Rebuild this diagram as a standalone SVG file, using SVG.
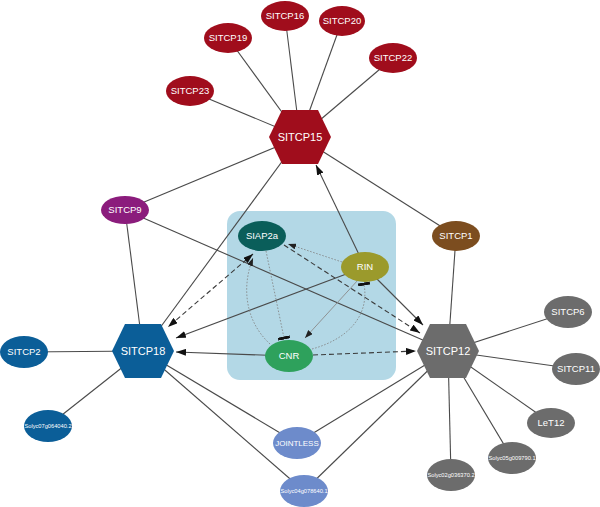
<svg xmlns="http://www.w3.org/2000/svg" width="600" height="507" viewBox="0 0 600 507">
<style>
text{font-family:"Liberation Sans",Arial,sans-serif;fill:#fff;text-anchor:middle}
.lb{font-size:9.5px}
.hx{font-size:11px}
.sm{font-size:5.7px}
.e{stroke:#4a4a4a;stroke-width:1.1;fill:none}
.d{stroke:#3a3a3a;stroke-width:1.1;fill:none;stroke-dasharray:5 3}
.t{stroke:#808080;stroke-width:0.8;fill:none;stroke-dasharray:1.6 1.6}
.ts{stroke:#8a8a8a;stroke-width:0.9;fill:none}
.red{fill:#a00d1c}.blu{fill:#0b5e98}.gry{fill:#6c6c6c}.per{fill:#6d8bcb}
</style>
<defs>
<marker id="a" markerUnits="userSpaceOnUse" markerWidth="10" markerHeight="7" refX="10" refY="3.5" orient="auto-start-reverse"><path d="M0,0L10,3.5L0,7z" fill="#111"/></marker>
<marker id="s" markerUnits="userSpaceOnUse" markerWidth="8" markerHeight="6" refX="8" refY="3" orient="auto"><path d="M0,0L8,3L0,6z" fill="#222"/></marker>
<marker id="b" markerUnits="userSpaceOnUse" markerWidth="3" markerHeight="12" refX="1.5" refY="6" orient="auto"><rect x="0" y="0" width="3" height="12" fill="#111"/></marker>
</defs>
<rect x="227" y="211" width="169" height="169" rx="13" fill="#b3d8e6"/>
<g id="connectors">
<line class="e" x1="300" y1="137" x2="285" y2="16"/>
<line class="e" x1="300" y1="137" x2="342" y2="21"/>
<line class="e" x1="300" y1="137" x2="228" y2="38"/>
<line class="e" x1="300" y1="137" x2="393" y2="58"/>
<line class="e" x1="300" y1="137" x2="190" y2="91"/>
<line class="e" x1="300" y1="137" x2="125" y2="210"/>
<line class="e" x1="300" y1="137" x2="143" y2="351"/>
<line class="e" x1="300" y1="137" x2="456" y2="236"/>
<line class="e" x1="125" y1="210" x2="143" y2="351"/>
<line class="e" x1="125" y1="210" x2="448" y2="351"/>
<line class="e" x1="456" y1="236" x2="448" y2="351"/>
<line class="e" x1="448" y1="351" x2="568" y2="312"/>
<line class="e" x1="448" y1="351" x2="576" y2="369"/>
<line class="e" x1="448" y1="351" x2="551" y2="423"/>
<line class="e" x1="448" y1="351" x2="512" y2="458"/>
<line class="e" x1="448" y1="351" x2="451" y2="475"/>
<line class="e" x1="448" y1="351" x2="297" y2="443"/>
<line class="e" x1="448" y1="351" x2="304" y2="491"/>
<line class="e" x1="143" y1="351" x2="24" y2="352"/>
<line class="e" x1="143" y1="351" x2="48" y2="426"/>
<line class="e" x1="143" y1="351" x2="297" y2="443"/>
<line class="e" x1="143" y1="351" x2="304" y2="491"/>
<line class="e" x1="365" y1="267" x2="316" y2="165" marker-end="url(#a)"/>
<line class="e" x1="365" y1="267" x2="176" y2="338" marker-end="url(#a)"/>
<line class="e" x1="365" y1="267" x2="423" y2="325" marker-end="url(#a)"/>
<line class="e" x1="289" y1="356" x2="176" y2="352" marker-end="url(#a)"/>
<line class="d" x1="253" y1="254" x2="168" y2="327" marker-start="url(#a)" marker-end="url(#a)"/>
<line class="d" x1="284" y1="245" x2="420" y2="333" marker-end="url(#a)"/>
<line class="d" x1="313" y1="355" x2="416" y2="351" marker-end="url(#a)"/>
<line class="t" x1="342" y1="262" x2="288" y2="244" marker-end="url(#s)"/>
<line class="ts" x1="358" y1="280" x2="305" y2="338" marker-end="url(#s)"/>
<line class="t" x1="266" y1="251" x2="284" y2="338" marker-end="url(#b)"/>
<path class="t" d="M270,344C244,320 242,285 253,258" marker-end="url(#s)"/>
<path class="t" d="M312,349C345,340 370,318 364,284" marker-end="url(#b)"/>
</g>
<g id="SITCP15"><polygon class="red" points="269,137 282,110 318,110 331,137 318,164 282,164"/><text class="hx" x="300" y="141">SITCP15</text></g>
<g id="SITCP16"><ellipse class="red" cx="285" cy="16" rx="24" ry="15"/><text class="lb" x="285" y="19.4">SITCP16</text></g>
<g id="SITCP20"><ellipse class="red" cx="342" cy="21" rx="23" ry="15"/><text class="lb" x="342" y="24.4">SITCP20</text></g>
<g id="SITCP19"><ellipse class="red" cx="228" cy="38" rx="24" ry="15"/><text class="lb" x="228" y="41.4">SITCP19</text></g>
<g id="SITCP22"><ellipse class="red" cx="393" cy="58" rx="24" ry="15"/><text class="lb" x="393" y="61.4">SITCP22</text></g>
<g id="SITCP23"><ellipse class="red" cx="190" cy="91" rx="24" ry="15"/><text class="lb" x="190" y="94.4">SITCP23</text></g>
<g id="SITCP9"><ellipse cx="125" cy="210" rx="24" ry="14" fill="#8b1c7c"/><text class="lb" x="125" y="213.4">SITCP9</text></g>
<g id="SITCP1"><ellipse cx="456" cy="236" rx="24" ry="15" fill="#7c4d1f"/><text class="lb" x="456" y="239.4">SITCP1</text></g>
<g id="SIAP2a"><ellipse cx="262" cy="236" rx="24" ry="15" fill="#0a5e5a"/><text class="lb" x="262" y="239.4">SIAP2a</text></g>
<g id="RIN"><ellipse cx="365" cy="267" rx="24" ry="15" fill="#9b9a2c"/><text class="lb" x="365" y="270.4">RIN</text></g>
<g id="CNR"><ellipse cx="289" cy="356" rx="24" ry="16" fill="#2ea15c"/><text class="lb" x="289" y="359.4">CNR</text></g>
<g id="SITCP18"><polygon class="blu" points="112,351 125,324 161,324 174,351 161,378 125,378"/><text class="hx" x="143" y="355">SITCP18</text></g>
<g id="SITCP2"><ellipse class="blu" cx="24" cy="352" rx="24" ry="16"/><text class="lb" x="24" y="355.4">SITCP2</text></g>
<g id="Solyc07g064040.2"><ellipse class="blu" cx="48" cy="426" rx="24" ry="16"/><text class="sm" x="48" y="428">Solyc07g064040.2</text></g>
<g id="JOINTLESS"><ellipse class="per" cx="297" cy="443" rx="24" ry="16"/><text class="lb" x="297" y="446.3" style="font-size:8px">JOINTLESS</text></g>
<g id="Solyc04g078640.1"><ellipse class="per" cx="304" cy="491" rx="24" ry="16"/><text class="sm" x="304" y="493">Solyc04g078640.1</text></g>
<g id="SITCP12"><polygon class="gry" points="417,351 430,324 466,324 479,351 466,378 430,378"/><text class="hx" x="448" y="355">SITCP12</text></g>
<g id="SITCP6"><ellipse class="gry" cx="568" cy="312" rx="24" ry="16"/><text class="lb" x="568" y="315.4">SITCP6</text></g>
<g id="SITCP11"><ellipse class="gry" cx="576" cy="369" rx="24" ry="16"/><text class="lb" x="576" y="372.4">SITCP11</text></g>
<g id="LeT12"><ellipse class="gry" cx="551" cy="423" rx="24" ry="15"/><text class="lb" x="551" y="426.4">LeT12</text></g>
<g id="Solyc05g009790.1"><ellipse class="gry" cx="512" cy="458" rx="24" ry="16"/><text class="sm" x="512" y="460">Solyc05g009790.1</text></g>
<g id="Solyc02g036370.2"><ellipse class="gry" cx="451" cy="475" rx="24" ry="16"/><text class="sm" x="451" y="477">Solyc02g036370.2</text></g>
</svg>
